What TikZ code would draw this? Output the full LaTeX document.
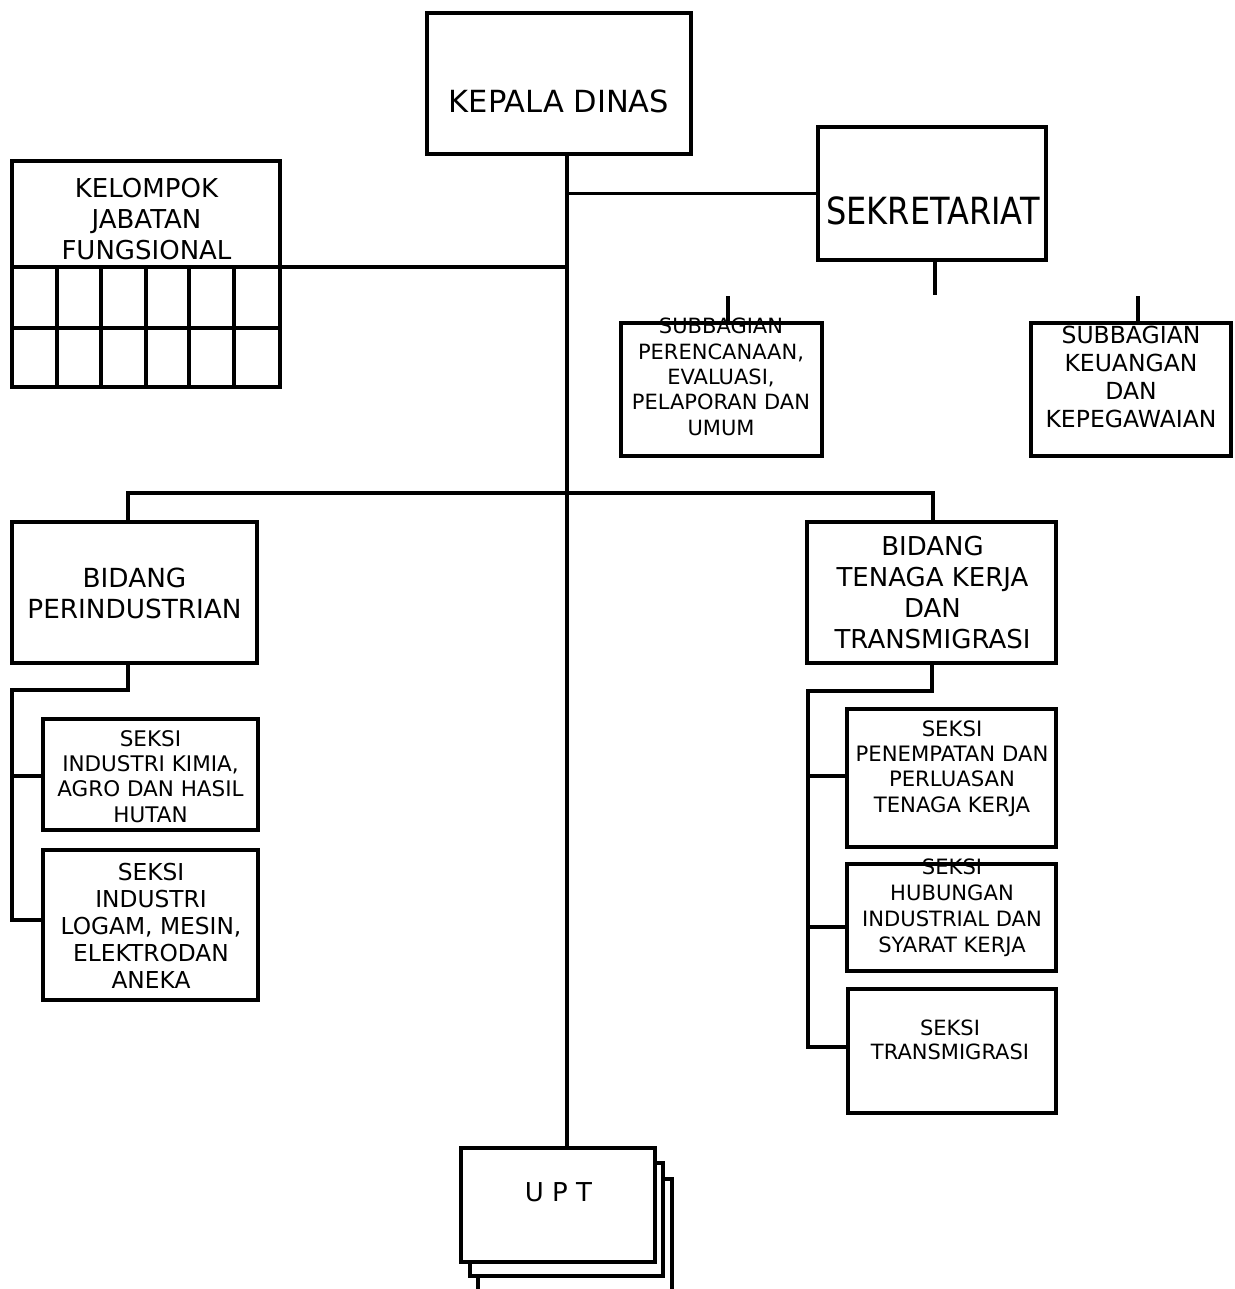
\documentclass[tikz,border=0pt]{standalone}
\usepackage{fontspec}
\setmainfont{DejaVu Sans}
\usepackage{graphicx}
\newcommand\fsz[2]{\fontsize{#1pt}{#2pt}\selectfont}
\begin{document}
\begin{tikzpicture}[x=1pt,y=-1pt,
  box/.style={draw, line width=3.5pt, anchor=north west, inner sep=0pt, outer sep=0pt, fill=white},
  conn/.style={line width=3.4pt},
  lbl/.style={anchor=base, align=center, inner sep=0pt}]
\path[use as bounding box] (0,0) rectangle (1234,1289);
\clip (0,0) rectangle (1234,1289);
\fill[white] (0,0) rectangle (1234,1289);

% coordinates for connectors
\coordinate (m) at (567,0);
\coordinate (sd) at (935,295);
\coordinate (t1) at (728,296);
\coordinate (t2) at (1138,296);
\coordinate (bL) at (128,493);
\coordinate (bR) at (933,493);
\coordinate (lT) at (12,690);
\coordinate (l1) at (12,776);
\coordinate (l2) at (12,920);
\coordinate (bR2) at (932,0);
\coordinate (rT) at (808,691);
\coordinate (r1) at (808,776);
\coordinate (r2) at (808,927);
\coordinate (r3) at (808,1047);

% boxes
\node[box, minimum width=264pt, minimum height=141pt] (kd) at (427,13) {};
\node[box, minimum width=228pt, minimum height=133pt] (sek) at (818,127) {};
\node[box, minimum width=201pt, minimum height=133pt] (sub1) at (621,323) {};
\node[box, minimum width=200pt, minimum height=133pt] (sub2) at (1031,323) {};
\node[box, minimum width=268pt, minimum height=106pt] (kjf) at (12,161) {};
\node[box, minimum width=268pt, minimum height=120pt] (kjfg) at (12,267) {};
\draw[conn] (12,328) -- (280,328);
\foreach \x in {57,101,146,189,234} \draw[conn] (\x,267) -- (\x,387);
\node[box, minimum width=245pt, minimum height=141pt] (bp) at (12,522) {};
\node[box, minimum width=249pt, minimum height=141pt] (btk) at (807,522) {};
\node[box, minimum width=215pt, minimum height=111pt] (s1) at (43,719) {};
\node[box, minimum width=215pt, minimum height=150pt] (s2) at (43,850) {};
\node[box, minimum width=209pt, minimum height=138pt] (s3) at (847,709) {};
\node[box, minimum width=209pt, minimum height=107pt] (s4) at (847,864) {};
\node[box, minimum width=208pt, minimum height=124pt] (s5) at (848,989) {};
\node[box, minimum width=194pt, minimum height=130pt] (upt3) at (478,1179) {};
\node[box, minimum width=193pt, minimum height=113pt] (upt2) at (470,1163) {};
\node[box, minimum width=194pt, minimum height=114pt] (upt) at (461,1148) {};

% connectors
\draw[conn] (kd.south -| m) -- (upt.north -| m);
\draw[conn] (sek.west) -- (sek.west -| m);
\draw[conn] (sek.south -| sd) -- (sd);
\draw[conn] (t1) -- (sub1.north -| t1);
\draw[conn] (t2) -- (sub2.north -| t2);
\draw[conn] (kjfg.north east) -- (kjfg.north east -| m);
\draw[conn] (bp.north -| bL) -- (bL) -- (bR) -- (btk.north -| bR);
\draw[conn] (bp.south -| bL) |- (lT) -- (l2) -- (l2 -| s2.west);
\draw[conn] (l1) -- (l1 -| s1.west);
\draw[conn] (btk.south -| bR2) |- (rT) -- (r3) -- (r3 -| s5.west);
\draw[conn] (r1) -- (r1 -| s3.west);
\draw[conn] (r2) -- (r2 -| s4.west);

% labels (anchor = baseline of the last line)
\node[lbl, font=\fsz{30.5}{36}] (kdt) at (559,113) {KEPALA DINAS};
\node[lbl, font=\fsz{32}{38}] (sekt) at (933,225) {\scalebox{1}[1.17]{SEKRETARIAT}};
\node[lbl, font=\fsz{21}{25.3}] (sub1t) at (721,435) {SUBBAGIAN\\PERENCANAAN,\\EVALUASI,\\PELAPORAN DAN\\UMUM};
\node[lbl, font=\fsz{23.5}{28}] (sub2t) at (1131,427) {SUBBAGIAN\\KEUANGAN\\DAN\\KEPEGAWAIAN};
\node[lbl, font=\fsz{26}{31}] (kjft) at (146.5,259) {KELOMPOK\\JABATAN\\FUNGSIONAL};
\node[lbl, font=\fsz{26.3}{31.5}] (bpt) at (134.5,618.5) {BIDANG\\PERINDUSTRIAN};
\node[lbl, font=\fsz{26}{30.7}] (btkt) at (932.5,648) {BIDANG\\TENAGA KERJA\\DAN\\TRANSMIGRASI};
\node[lbl, font=\fsz{21.5}{25.3}] (s1t) at (150.5,822) {SEKSI\\INDUSTRI KIMIA,\\AGRO DAN HASIL\\HUTAN};
\node[lbl, font=\fsz{23.3}{27}] (s2t) at (151,988) {SEKSI\\INDUSTRI\\LOGAM, MESIN,\\ELEKTRODAN\\ANEKA};
\node[lbl, font=\fsz{21.2}{25.3}] (s3t) at (952,812) {SEKSI\\PENEMPATAN DAN\\PERLUASAN\\TENAGA KERJA};
\node[lbl, font=\fsz{21.1}{25.7}] (s4t) at (952,952) {SEKSI\\HUBUNGAN\\INDUSTRIAL DAN\\SYARAT KERJA};
\node[lbl, font=\fsz{21}{24}] (s5t) at (950,1059) {SEKSI\\TRANSMIGRASI};
\node[lbl, font=\fsz{26}{31}] (uptt) at (558.5,1201) {U P T};
\end{tikzpicture}
\end{document}
